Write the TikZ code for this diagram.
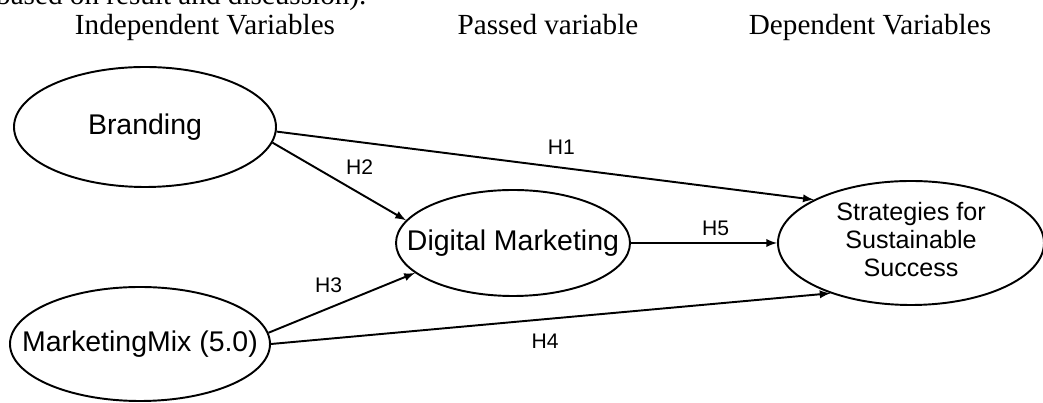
\documentclass[tikz,border=0pt]{standalone}
\usepackage{fontspec}
\setmainfont{Liberation Serif}
\setsansfont{Liberation Sans}
\usetikzlibrary{shapes.geometric}

% text that does not widen its ellipse
\newcommand{\tighttext}[1]{\makebox[0pt]{#1}}

\begin{document}
\begin{tikzpicture}[
  construct/.style={ellipse, draw, line width=1.1pt, inner sep=0pt,
    font=\sffamily\fontsize{16.2}{19}\selectfont},
  hyp/.style={font=\sffamily\fontsize{12}{14}\selectfont},
  head/.style={anchor=base, font=\fontsize{16.6}{20}\selectfont}
]
\useasboundingbox (0, 0) rectangle (20.86, 8.06);

\node[anchor=base west, font=\fontsize{16.6}{20}\selectfont] (cap) at (-0.2, 7.96) {based on result and discussion).};
\node[head] (indep) at (4.10, 7.36)  {Independent Variables};
\node[head] (pass)  at (10.96, 7.36) {Passed variable};
\node[head] (dep)   at (17.40, 7.36) {Dependent Variables};

\node[construct, minimum width=5.24cm, minimum height=2.40cm] (brand) at (2.90, 5.52)  {\tighttext{Branding}};
\node[construct, minimum width=5.20cm, minimum height=2.28cm] (mix)   at (2.80, 1.18)  {\tighttext{MarketingMix (5.0)}};
\node[construct, minimum width=4.68cm, minimum height=2.12cm] (dig)   at (10.26, 3.20) {\tighttext{Digital Marketing}};
\node[construct, minimum width=5.32cm, minimum height=2.48cm,
  font=\sffamily\fontsize{14.3}{15.9}\selectfont] (strat) at (18.22, 3.20)
  {\tighttext{\begin{tabular}{@{}c@{}}Strategies for\\Sustainable\\Success\end{tabular}}};

\path[->, >=latex, line width=1.1pt]
(brand.-2) edge node[hyp, above, pos=0.53, yshift=0.12cm] {H1} (strat.156)
(brand.-7) edge node[hyp, above right]                    {H2} (dig.168)
(mix.5)    edge node[hyp, above left, pos=0.55]           {H3} (dig.197)
(mix.east) edge node[hyp, below, pos=0.49, yshift=-0.16cm] {H4} (strat.212)
(dig.east) edge node[hyp, above, pos=0.58]                {H5} (strat.west)
;
\end{tikzpicture}
\end{document}
